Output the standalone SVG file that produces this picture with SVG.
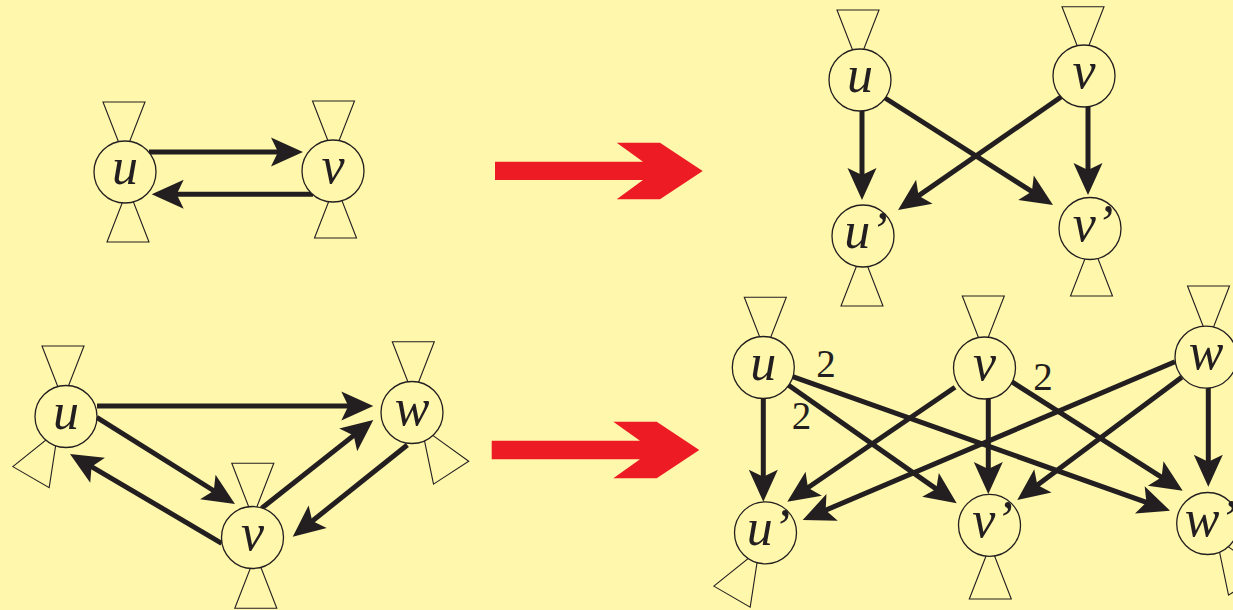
<svg xmlns="http://www.w3.org/2000/svg" xmlns:xlink="http://www.w3.org/1999/xlink" width="1233" height="610" viewBox="0 0 1233 610">
<style>
.bg{fill:#FFF7AB}
.flap{fill:none;stroke:#231F20;stroke-width:1.1}
.node{fill:#FFF7AB;stroke:#231F20;stroke-width:1.3}
.lbl{font-family:"Liberation Serif","Times New Roman",serif;font-style:italic;font-size:52px;fill:#231F20;text-anchor:middle}
.num{font-family:"Liberation Serif","Times New Roman",serif;font-size:39px;fill:#231F20;text-anchor:middle}
.edge{stroke:#231F20;stroke-width:5;fill:none;marker-end:url(#ah)}
.big{fill:#ED1C24}
</style>
<defs>
<marker id="ah" markerUnits="userSpaceOnUse" viewBox="0 -15 34 30" markerWidth="34" markerHeight="30" refX="16" refY="0" orient="auto" overflow="visible">
<path d="M0,-14.5 L32,0 L0,14.5 L7,0 Z" fill="#231F20"/>
</marker>
<polygon id="flap" points="-21,70 21,70 0,16"/>
</defs>
<rect class="bg" x="0" y="0" width="1233" height="610"/>

<g id="transform-arrows">
<polygon class="big" points="495,161.7 643,161.7 616.7,142.7 660,142.7 702.7,171 660,199.3 616.7,199.3 643,180 495,180"/>
<polygon class="big" points="491.7,440.7 640,440.7 613.3,421.7 656.7,421.7 699.3,450 656.7,478.3 613.3,478.3 640,459.3 491.7,459.3"/>
</g>

<g id="connectors">
<line class="edge" x1="149" y1="152" x2="287" y2="152"/>
<line class="edge" x1="313" y1="194.3" x2="167.7" y2="194.3"/>

<line class="edge" x1="862" y1="111" x2="862" y2="184"/>
<line class="edge" x1="1088" y1="107" x2="1088" y2="179"/>
<line class="edge" x1="885" y1="98" x2="1039.5" y2="196.4"/>
<line class="edge" x1="1061" y1="97" x2="911.2" y2="200.9"/>

<line class="edge" x1="97" y1="406" x2="357.3" y2="406"/>
<line class="edge" x1="96.7" y1="417.3" x2="221.4" y2="495.5"/>
<line class="edge" x1="221.7" y1="543.3" x2="83.8" y2="462.1"/>
<line class="edge" x1="261.7" y1="508.3" x2="360.75" y2="429.9"/>
<line class="edge" x1="407.3" y1="445" x2="305.2" y2="526.7"/>

<line class="edge" x1="763.3" y1="399" x2="763.3" y2="485.7"/>
<line class="edge" x1="788.3" y1="385" x2="943.6" y2="494.1"/>
<line class="edge" x1="792.7" y1="376.7" x2="1154.9" y2="505.3"/>
<line class="edge" x1="955" y1="387.3" x2="800.5" y2="492.7"/>
<line class="edge" x1="988.3" y1="399" x2="988.3" y2="478"/>
<line class="edge" x1="1011.7" y1="381.7" x2="1169.2" y2="482.1"/>
<line class="edge" x1="1175" y1="361.7" x2="817.4" y2="513.7"/>
<line class="edge" x1="1181.7" y1="377.3" x2="1030.1" y2="490.4"/>
<line class="edge" x1="1208.3" y1="388" x2="1208.3" y2="470.7"/>
</g>

<g id="edge-labels">
<text class="num" x="826" y="377">2</text>
<text class="num" x="801.4" y="429">2</text>
<text class="num" x="1043" y="390">2</text>
</g>

<g id="tl-u">
<use href="#flap" class="flap" transform="translate(124,172) rotate(180)"/>
<use href="#flap" class="flap" transform="translate(128,172)"/>
<circle class="node" cx="125" cy="172" r="31"/>
<text class="lbl" x="125" y="184">u</text>
</g>
<g id="tl-v">
<use href="#flap" class="flap" transform="translate(333.5,171) rotate(180)"/>
<use href="#flap" class="flap" transform="translate(335.5,168)"/>
<circle class="node" cx="333" cy="171" r="31"/>
<text class="lbl" x="333" y="183">v</text>
</g>

<g id="tr-u">
<use href="#flap" class="flap" transform="translate(858,80) rotate(180)"/>
<circle class="node" cx="860" cy="80" r="31"/>
<text class="lbl" x="860" y="92">u</text>
</g>
<g id="tr-v">
<use href="#flap" class="flap" transform="translate(1083,76.7) rotate(180)"/>
<circle class="node" cx="1084" cy="76" r="31"/>
<text class="lbl" x="1084" y="88">v</text>
</g>
<g id="tr-u2">
<use href="#flap" class="flap" transform="translate(862,236)"/>
<circle class="node" cx="863" cy="236" r="31"/>
<text class="lbl" x="866" y="248">u’</text>
</g>
<g id="tr-v2">
<use href="#flap" class="flap" transform="translate(1091.5,226)"/>
<circle class="node" cx="1090" cy="228.5" r="31"/>
<text class="lbl" x="1093" y="240.5">v’</text>
</g>

<g id="bl-u">
<use href="#flap" class="flap" transform="translate(63,416) rotate(180)"/>
<use href="#flap" class="flap" transform="translate(66,416.5) rotate(30)"/>
<circle class="node" cx="66" cy="416.5" r="31"/>
<text class="lbl" x="66" y="428.5">u</text>
</g>
<g id="bl-w">
<use href="#flap" class="flap" transform="translate(413.3,411.7) rotate(180)"/>
<use href="#flap" class="flap" transform="translate(413,414) rotate(-33)"/>
<circle class="node" cx="412" cy="412.5" r="31"/>
<text class="lbl" x="412" y="424.5">w</text>
</g>
<g id="bl-v">
<use href="#flap" class="flap" transform="translate(252.8,533.3) rotate(180)"/>
<use href="#flap" class="flap" transform="translate(255.8,538.3)"/>
<circle class="node" cx="252.5" cy="537.5" r="31"/>
<text class="lbl" x="252.5" y="549.5">v</text>
</g>

<g id="br-u">
<use href="#flap" class="flap" transform="translate(765.3,367.3) rotate(180)"/>
<circle class="node" cx="763.3" cy="367.5" r="31"/>
<text class="lbl" x="763.3" y="379.5">u</text>
</g>
<g id="br-v">
<use href="#flap" class="flap" transform="translate(983.3,366) rotate(180)"/>
<circle class="node" cx="984.5" cy="368" r="31"/>
<text class="lbl" x="984.5" y="380">v</text>
</g>
<g id="br-w">
<use href="#flap" class="flap" transform="translate(1208.5,356) rotate(180)"/>
<circle class="node" cx="1206" cy="357.2" r="31"/>
<text class="lbl" x="1206" y="369.2">w</text>
</g>
<g id="br-u2">
<use href="#flap" class="flap" transform="translate(767,536) rotate(30)"/>
<circle class="node" cx="765.5" cy="532.8" r="31"/>
<text class="lbl" x="768.5" y="544.8">u’</text>
</g>
<g id="br-v2">
<use href="#flap" class="flap" transform="translate(990.3,529)"/>
<circle class="node" cx="989.5" cy="525.3" r="31"/>
<text class="lbl" x="992.5" y="537.3">v’</text>
</g>
<g id="br-w2">
<use href="#flap" class="flap" transform="translate(1208,525) rotate(-33)"/>
<circle class="node" cx="1207.7" cy="523.5" r="31"/>
<text class="lbl" x="1210.7" y="535.5">w’</text>
</g>
</svg>
